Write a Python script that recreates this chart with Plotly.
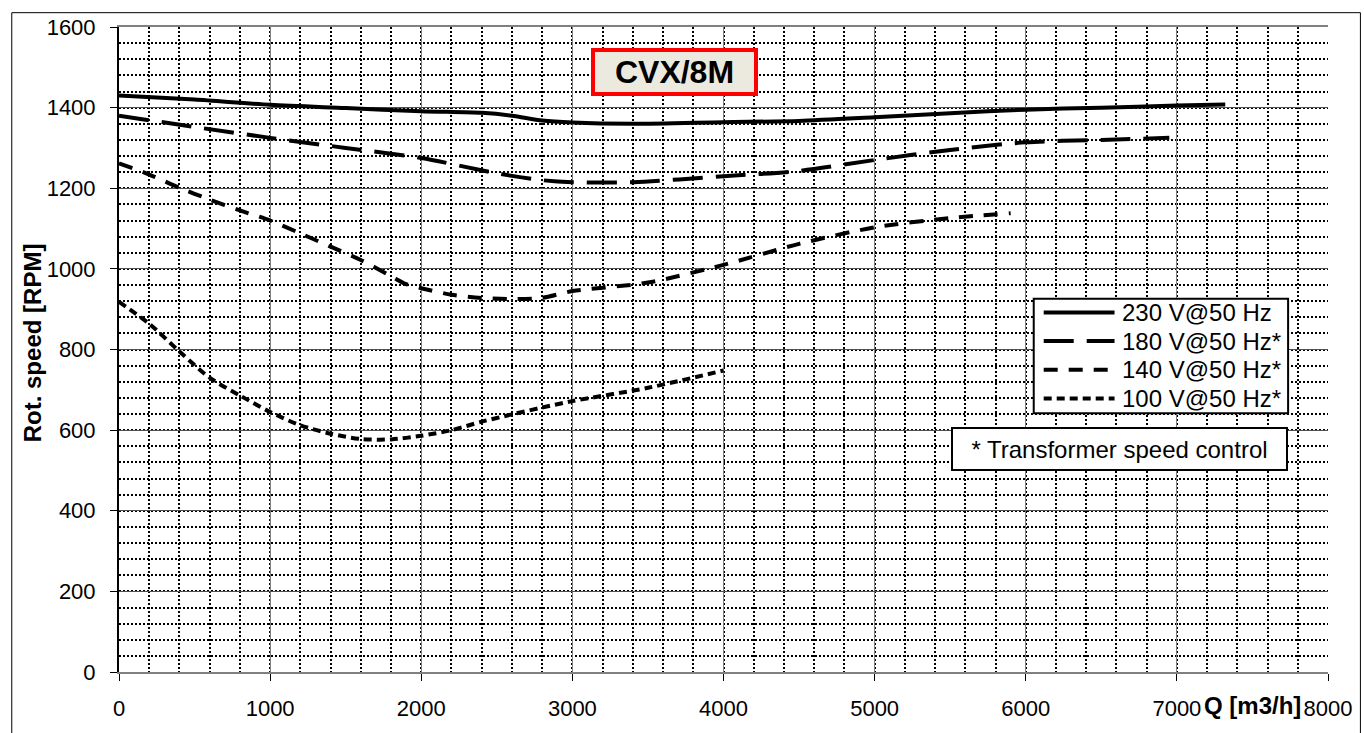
import plotly.graph_objects as go

# ---- data ----
q_230 = [0, 500, 1000, 1500, 2000, 2400, 2600, 2800, 3000, 3400, 4000, 4500, 5000, 5500, 6000, 6500, 7000, 7320]
rpm_230 = [1430, 1420, 1407, 1399, 1391, 1387, 1380, 1368, 1363, 1360, 1364, 1367, 1376, 1386, 1395, 1400, 1405, 1408]

q_180 = [0, 500, 1000, 1500, 2000, 2500, 2800, 3000, 3400, 4000, 4500, 5000, 5500, 6000, 6500, 6950]
rpm_180 = [1380, 1352, 1325, 1300, 1275, 1237, 1220, 1215, 1215, 1230, 1243, 1270, 1295, 1314, 1320, 1325]

q_140 = [0, 200, 400, 600, 800, 1000, 1200, 1400, 1600, 1800, 1900, 2000, 2200, 2400, 2600, 2800, 3000, 3500, 4000, 4500, 5000, 5500, 5900]
rpm_140 = [1262, 1234, 1201, 1172, 1145, 1120, 1088, 1055, 1022, 982, 962, 952, 936, 928, 925, 928, 945, 966, 1010, 1062, 1103, 1126, 1138]

q_100 = [0, 200, 400, 600, 800, 1000, 1200, 1400, 1600, 1800, 2000, 2200, 2400, 2600, 2800, 3000, 3500, 4000]
rpm_100 = [918, 864, 795, 730, 686, 645, 612, 591, 578, 577, 586, 600, 621, 639, 656, 672, 705, 748]

series_names = ["230 V@50 Hz", "180 V@50 Hz*", "140 V@50 Hz*", "100 V@50 Hz*"]
x_ticks = [0, 1000, 2000, 3000, 4000, 5000, 6000, 7000, 8000]
y_ticks = [0, 200, 400, 600, 800, 1000, 1200, 1400, 1600]
chart_title = "CVX/8M"
note_text = "* Transformer speed control"
x_title = "Q [m3/h]"
y_title = "Rot. speed [RPM]"

FONT = "Liberation Sans, Arial, sans-serif"
dashes = ["solid", "30px,13px", "14px,11px", "8px,5px"]
data = [(q_230, rpm_230), (q_180, rpm_180), (q_140, rpm_140), (q_100, rpm_100)]

fig = go.Figure()
for name, (q, r), d in zip(series_names, data, dashes):
    fig.add_trace(go.Scatter(
        x=q, y=r, mode="lines", name=name, showlegend=False,
        line=dict(color="black", width=4, dash=d, shape="spline", smoothing=0.8),
        hoverinfo="x+y+name",
    ))

W, H = 1364, 733
L, R, T, B = 119, 33, 27, 53
pw, ph = W - L - R, H - T - B


def px_x(p):
    return (p - L) / pw


def px_y(p):
    return (H - B - p) / ph


fig.update_layout(
    width=W, height=H,
    margin=dict(l=L, r=R, t=T, b=B),
    paper_bgcolor="white", plot_bgcolor="white",
    font=dict(family=FONT, color="black", size=22),
    showlegend=False,
    xaxis=dict(
        range=[0, 8000], tickvals=x_ticks, ticktext=[str(v) for v in x_ticks],
        showgrid=True, gridcolor="#808080", gridwidth=1,
        minor=dict(tick0=0, dtick=200, showgrid=True, gridcolor="black",
                   griddash="2px,2px", gridwidth=2, ticks=""),
        showline=True, linecolor="#808080", linewidth=2, mirror=True,
        ticks="outside", ticklen=7, tickcolor="black", tickwidth=1,
        zeroline=False, tickfont=dict(size=22), ticklabelstandoff=9,
    ),
    yaxis=dict(
        range=[0, 1600], tickvals=y_ticks, ticktext=[str(v) for v in y_ticks],
        showgrid=True, gridcolor="#505050", gridwidth=1,
        minor=dict(tick0=0, dtick=40, showgrid=True, gridcolor="black",
                   griddash="2px,2px", gridwidth=2, ticks=""),
        showline=True, linecolor="black", linewidth=2,
        ticks="outside", ticklen=7, tickcolor="black", tickwidth=1,
        zeroline=False, tickfont=dict(size=22), ticklabelstandoff=10,
    ),
)

annotations = [
    dict(text="<b>%s</b>" % chart_title, xref="paper", yref="paper",
         x=px_x(675.5), y=px_y(73), xanchor="center", yanchor="middle",
         showarrow=False, font=dict(family=FONT, size=32, color="black"),
         bgcolor="#ECE9DF", bordercolor="#FF0000", borderwidth=4, borderpad=2,
         width=155, height=36),
    dict(text=note_text, xref="paper", yref="paper",
         x=px_x(1121.5), y=px_y(454), xanchor="center", yanchor="middle",
         showarrow=False, font=dict(family=FONT, size=24, color="black"),
         bgcolor="white", bordercolor="black", borderwidth=2, borderpad=3,
         width=327, height=34),
    dict(text="<b>%s</b>" % y_title, xref="paper", yref="paper",
         x=px_x(32), y=px_y(347), xanchor="center", yanchor="middle",
         textangle=-90, showarrow=False, font=dict(family=FONT, size=24, color="black")),
    dict(text="<b>%s</b>" % x_title, xref="paper", yref="paper",
         x=px_x(1255), y=px_y(714), xanchor="center", yanchor="middle",
         showarrow=False, font=dict(family=FONT, size=24, color="black")),
]

shapes = [
    # outer chart frame
    dict(type="rect", xref="paper", yref="paper",
         x0=px_x(11.5), x1=px_x(1363.5), y0=px_y(745), y1=px_y(12.5),
         line=dict(color="black", width=1), fillcolor="rgba(0,0,0,0)", layer="below"),
    # legend box
    dict(type="rect", xref="paper", yref="paper",
         x0=px_x(1036), x1=px_x(1291), y0=px_y(418), y1=px_y(302),
         line=dict(color="black", width=2), fillcolor="white", layer="above"),
]

row_y = [316, 345, 374, 403]
for name, d, ry in zip(series_names, dashes, row_y):
    shapes.append(dict(type="line", xref="paper", yref="paper",
                       x0=px_x(1046), x1=px_x(1117), y0=px_y(ry), y1=px_y(ry),
                       line=dict(color="black", width=4, dash=d), layer="above"))
    annotations.append(dict(text=name, xref="paper", yref="paper",
                            x=px_x(1122), y=px_y(ry), xanchor="left", yanchor="middle",
                            showarrow=False, font=dict(family=FONT, size=24, color="black")))

fig.update_layout(annotations=annotations, shapes=shapes)

fig.write_html("out.html")
